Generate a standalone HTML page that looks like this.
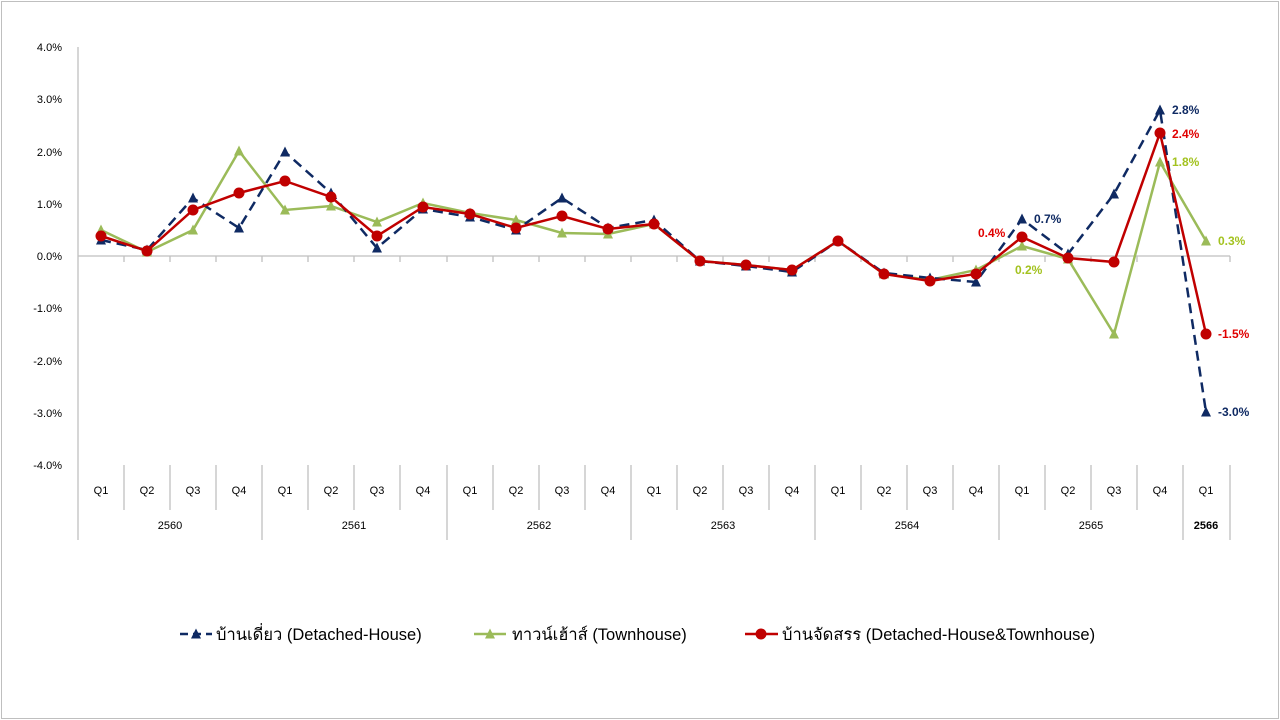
<!DOCTYPE html>
<html><head><meta charset="utf-8"><style>
html,body{margin:0;padding:0;background:#fff;}
svg{display:block;font-family:"Liberation Sans","Noto Sans CJK SC",sans-serif;}
</style></head><body>
<svg width="1280" height="720" viewBox="0 0 1280 720">
<defs>
<symbol id="tb" viewBox="-6 -6 12 12" overflow="visible"><polygon points="0,-5.5 5,4.5 -5,4.5" fill="#0f2a63"/></symbol>
<symbol id="tg" viewBox="-6 -6 12 12" overflow="visible"><polygon points="0,-5.5 5,4.5 -5,4.5" fill="#9bbb59"/></symbol>
<symbol id="cr" viewBox="-6 -6 12 12" overflow="visible"><circle r="5.5" fill="#c00000"/></symbol>
</defs>
<rect x="1.5" y="1.5" width="1277" height="717" fill="#fff" stroke="#bfbfbf"/>
<g font-size="11" fill="#000" text-anchor="end">
<text x="62" y="51">4.0%</text><text x="62" y="103">3.0%</text><text x="62" y="156">2.0%</text>
<text x="62" y="208">1.0%</text><text x="62" y="260">0.0%</text><text x="62" y="312">-1.0%</text>
<text x="62" y="365">-2.0%</text><text x="62" y="417">-3.0%</text><text x="62" y="469">-4.0%</text>
</g>
<g stroke="#bfbfbf" stroke-width="1.3" fill="none">
<line x1="78" y1="47" x2="78" y2="540"/>
<line x1="78" y1="256" x2="1230" y2="256"/>
<path d="M124,256v6M170,256v6M216,256v6M262,256v6M308,256v6M354,256v6M400,256v6M447,256v6M493,256v6M539,256v6M585,256v6M631,256v6M677,256v6M723,256v6M769,256v6M815,256v6M861,256v6M907,256v6M953,256v6M999,256v6M1045,256v6M1091,256v6M1137,256v6M1183,256v6M1230,256v6"/>
<path d="M124,465v45M170,465v45M216,465v45M308,465v45M354,465v45M400,465v45M493,465v45M539,465v45M585,465v45M677,465v45M723,465v45M769,465v45M861,465v45M907,465v45M953,465v45M1045,465v45M1091,465v45M1137,465v45"/>
<path d="M262,465v75M447,465v75M631,465v75M815,465v75M999,465v75M1183,465v75M1230,465v75"/>
</g>
<g font-size="11" text-anchor="middle">
<text x="101" y="494">Q1</text><text x="147" y="494">Q2</text><text x="193" y="494">Q3</text><text x="239" y="494">Q4</text>
<text x="285" y="494">Q1</text><text x="331" y="494">Q2</text><text x="377" y="494">Q3</text><text x="423" y="494">Q4</text>
<text x="470" y="494">Q1</text><text x="516" y="494">Q2</text><text x="562" y="494">Q3</text><text x="608" y="494">Q4</text>
<text x="654" y="494">Q1</text><text x="700" y="494">Q2</text><text x="746" y="494">Q3</text><text x="792" y="494">Q4</text>
<text x="838" y="494">Q1</text><text x="884" y="494">Q2</text><text x="930" y="494">Q3</text><text x="976" y="494">Q4</text>
<text x="1022" y="494">Q1</text><text x="1068" y="494">Q2</text><text x="1114" y="494">Q3</text><text x="1160" y="494">Q4</text>
<text x="1206" y="494">Q1</text>
<text x="170" y="529">2560</text><text x="354" y="529">2561</text><text x="539" y="529">2562</text>
<text x="723" y="529">2563</text><text x="907" y="529">2564</text><text x="1091" y="529">2565</text>
<text x="1206" y="529" font-weight="bold">2566</text>
</g>
<polyline fill="none" stroke="#9bbb59" stroke-width="2.5" points="101,230 147,252 193,230 239,151 285,210 331,206 377,222 423,203 470,213 516,220 562,233 608,234 654,224 700,261 746,265 792,270 838,241 884,274 930,280 976,270 1022,246 1068,259 1114,334 1160,162 1206,241"/>
<polyline fill="none" stroke="#0f2a63" stroke-width="2.5" stroke-dasharray="10,6" points="101,240 147,250 193,198 239,228 285,152 331,193 377,248 423,209 470,217 516,230 562,198 608,228 654,220 700,261 746,266 792,272 838,241 884,273 930,278 976,282 1022,219 1068,254 1114,194 1160,110 1206,412"/>
<polyline fill="none" stroke="#c00000" stroke-width="2.5" points="101,236 147,251 193,210 239,193 285,181 331,197 377,236 423,207 470,214 516,228 562,216 608,229 654,224 700,261 746,265 792,270 838,241 884,274 930,281 976,274 1022,237 1068,258 1114,262 1160,133 1206,334"/>
<g>
<use href="#tg" x="95" y="224" width="12" height="12"/><use href="#tg" x="141" y="246" width="12" height="12"/><use href="#tg" x="187" y="224" width="12" height="12"/><use href="#tg" x="233" y="145" width="12" height="12"/><use href="#tg" x="279" y="204" width="12" height="12"/><use href="#tg" x="325" y="200" width="12" height="12"/><use href="#tg" x="371" y="216" width="12" height="12"/><use href="#tg" x="417" y="197" width="12" height="12"/><use href="#tg" x="464" y="207" width="12" height="12"/><use href="#tg" x="510" y="214" width="12" height="12"/><use href="#tg" x="556" y="227" width="12" height="12"/><use href="#tg" x="602" y="228" width="12" height="12"/><use href="#tg" x="648" y="218" width="12" height="12"/><use href="#tg" x="694" y="255" width="12" height="12"/><use href="#tg" x="740" y="259" width="12" height="12"/><use href="#tg" x="786" y="264" width="12" height="12"/><use href="#tg" x="832" y="235" width="12" height="12"/><use href="#tg" x="878" y="268" width="12" height="12"/><use href="#tg" x="924" y="274" width="12" height="12"/><use href="#tg" x="970" y="264" width="12" height="12"/><use href="#tg" x="1016" y="240" width="12" height="12"/><use href="#tg" x="1062" y="253" width="12" height="12"/><use href="#tg" x="1108" y="328" width="12" height="12"/><use href="#tg" x="1154" y="156" width="12" height="12"/><use href="#tg" x="1200" y="235" width="12" height="12"/>
</g>
<g>
<use href="#tb" x="95" y="234" width="12" height="12"/><use href="#tb" x="141" y="244" width="12" height="12"/><use href="#tb" x="187" y="192" width="12" height="12"/><use href="#tb" x="233" y="222" width="12" height="12"/><use href="#tb" x="279" y="146" width="12" height="12"/><use href="#tb" x="325" y="187" width="12" height="12"/><use href="#tb" x="371" y="242" width="12" height="12"/><use href="#tb" x="417" y="203" width="12" height="12"/><use href="#tb" x="464" y="211" width="12" height="12"/><use href="#tb" x="510" y="224" width="12" height="12"/><use href="#tb" x="556" y="192" width="12" height="12"/><use href="#tb" x="602" y="222" width="12" height="12"/><use href="#tb" x="648" y="214" width="12" height="12"/><use href="#tb" x="694" y="255" width="12" height="12"/><use href="#tb" x="740" y="260" width="12" height="12"/><use href="#tb" x="786" y="266" width="12" height="12"/><use href="#tb" x="832" y="235" width="12" height="12"/><use href="#tb" x="878" y="267" width="12" height="12"/><use href="#tb" x="924" y="272" width="12" height="12"/><use href="#tb" x="970" y="276" width="12" height="12"/><use href="#tb" x="1016" y="213" width="12" height="12"/><use href="#tb" x="1062" y="248" width="12" height="12"/><use href="#tb" x="1108" y="188" width="12" height="12"/><use href="#tb" x="1154" y="104" width="12" height="12"/><use href="#tb" x="1200" y="406" width="12" height="12"/>
</g>
<g>
<use href="#cr" x="95" y="230" width="12" height="12"/><use href="#cr" x="141" y="245" width="12" height="12"/><use href="#cr" x="187" y="204" width="12" height="12"/><use href="#cr" x="233" y="187" width="12" height="12"/><use href="#cr" x="279" y="175" width="12" height="12"/><use href="#cr" x="325" y="191" width="12" height="12"/><use href="#cr" x="371" y="230" width="12" height="12"/><use href="#cr" x="417" y="201" width="12" height="12"/><use href="#cr" x="464" y="208" width="12" height="12"/><use href="#cr" x="510" y="222" width="12" height="12"/><use href="#cr" x="556" y="210" width="12" height="12"/><use href="#cr" x="602" y="223" width="12" height="12"/><use href="#cr" x="648" y="218" width="12" height="12"/><use href="#cr" x="694" y="255" width="12" height="12"/><use href="#cr" x="740" y="259" width="12" height="12"/><use href="#cr" x="786" y="264" width="12" height="12"/><use href="#cr" x="832" y="235" width="12" height="12"/><use href="#cr" x="878" y="268" width="12" height="12"/><use href="#cr" x="924" y="275" width="12" height="12"/><use href="#cr" x="970" y="268" width="12" height="12"/><use href="#cr" x="1016" y="231" width="12" height="12"/><use href="#cr" x="1062" y="252" width="12" height="12"/><use href="#cr" x="1108" y="256" width="12" height="12"/><use href="#cr" x="1154" y="127" width="12" height="12"/><use href="#cr" x="1200" y="328" width="12" height="12"/>
</g>
<g font-size="12" font-weight="bold">
<text x="1172" y="114" fill="#0f2a63">2.8%</text>
<text x="1172" y="138" fill="#e00000">2.4%</text>
<text x="1172" y="166" fill="#a3c21f">1.8%</text>
<text x="1218" y="245" fill="#a3c21f">0.3%</text>
<text x="1218" y="338" fill="#e00000">-1.5%</text>
<text x="1218" y="416" fill="#0f2a63">-3.0%</text>
<text x="1034" y="223" fill="#0f2a63">0.7%</text>
<text x="978" y="237" fill="#e00000">0.4%</text>
<text x="1015" y="274" fill="#a3c21f">0.2%</text>
</g>
<g font-size="16.5">
<line x1="180" y1="634" x2="212" y2="634" stroke="#0f2a63" stroke-width="2.5" stroke-dasharray="8,5"/>
<use href="#tb" x="190" y="628" width="12" height="12"/>
<text x="216" y="640">บ้านเดี่ยว (Detached-House)</text>
<line x1="474" y1="634" x2="506" y2="634" stroke="#9bbb59" stroke-width="2.5"/>
<use href="#tg" x="484" y="628" width="12" height="12"/>
<text x="512" y="640">ทาวน์เฮ้าส์ (Townhouse)</text>
<line x1="745" y1="634" x2="778" y2="634" stroke="#c00000" stroke-width="2.5"/>
<use href="#cr" x="755" y="628" width="12" height="12"/>
<text x="782" y="640">บ้านจัดสรร (Detached-House&amp;Townhouse)</text>
</g>
</svg>
</body></html>
